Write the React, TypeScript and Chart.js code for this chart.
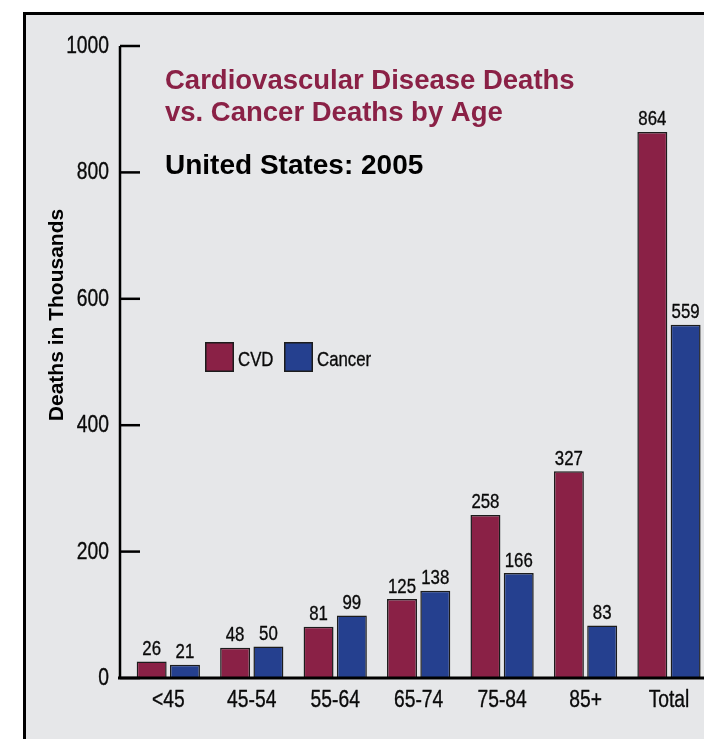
import React, { useEffect, useRef } from "react";
import { Chart, registerables } from "chart.js";

Chart.register(...registerables);

const categories = ["<45", "45-54", "55-64", "65-74", "75-84", "85+", "Total"];
const cvdDeaths = [26, 48, 81, 125, 258, 327, 864];
const cancerDeaths = [21, 50, 99, 138, 166, 83, 559];
const seriesNames = ["CVD", "Cancer"];
const yMin = 0;
const yMax = 1000;
const yStep = 200;
const titleLines = ["Cardiovascular Disease Deaths", "vs. Cancer Deaths by Age"];
const subtitleText = "United States: 2005";
const yAxisTitle = "Deaths in Thousands";

const CVD_COLOR = "#8A2146";
const CANCER_COLOR = "#25408F";
const BAR_BORDER = "#1c1c1c";
const PANEL_BG = "#E6E7E9";
const SANS = "'Liberation Sans', Arial, sans-serif";
const NARROW_X = 0.82; // Arial Narrow ≈ Arial compressed horizontally

const CANVAS_W = 720;
const CANVAS_H = 739;

function narrowText(
  ctx: CanvasRenderingContext2D,
  text: string,
  x: number,
  y: number,
  size: number,
  align: CanvasTextAlign,
  color = "#0a0a0a"
) {
  ctx.save();
  ctx.translate(x, y);
  ctx.scale(NARROW_X, 1);
  ctx.font = `${size}px ${SANS}`;
  ctx.fillStyle = color;
  ctx.strokeStyle = color;
  ctx.lineWidth = 0.35;
  ctx.lineJoin = "round";
  ctx.textAlign = align;
  ctx.textBaseline = "alphabetic";
  ctx.fillText(text, 0, 0);
  ctx.strokeText(text, 0, 0);
  ctx.restore();
}

const decorPlugin = {
  id: "decor",
  afterDatasetsDraw(chart: any) {
    const { ctx, chartArea, scales } = chart;
    const y = scales.y;
    const x = scales.x;
    const axisX = chartArea.left - 6.6;
    const zeroY = y.getPixelForValue(yMin);
    ctx.save();

    // value labels above bars
    chart.data.datasets.forEach((ds: any, di: number) => {
      const meta = chart.getDatasetMeta(di);
      meta.data.forEach((bar: any, i: number) => {
        narrowText(ctx, String(ds.data[i]), bar.x, bar.y - 6.5, 20.5, "center");
      });
    });

    // axes
    ctx.strokeStyle = "#000";
    ctx.lineCap = "butt";
    ctx.lineWidth = 2.5;
    ctx.beginPath();
    ctx.moveTo(axisX, y.getPixelForValue(yMax));
    ctx.lineTo(axisX, zeroY);
    ctx.stroke();
    y.ticks.forEach((t: any) => {
      const py = y.getPixelForValue(t.value);
      ctx.strokeStyle = "#000";
      ctx.lineWidth = 2.5;
      ctx.beginPath();
      ctx.moveTo(axisX, py);
      ctx.lineTo(axisX + 20, py);
      ctx.stroke();
      narrowText(ctx, String(t.value), axisX - 11, py + 7, 23.5, "right");
    });
    ctx.strokeStyle = "#000";
    ctx.lineWidth = 3;
    ctx.beginPath();
    ctx.moveTo(axisX - 2, zeroY);
    ctx.lineTo(chart.width, zeroY);
    ctx.stroke();

    // category labels
    chart.data.labels.forEach((lab: string, i: number) => {
      narrowText(ctx, lab, x.getPixelForTick(i), zeroY + 28.5, 23.5, "center");
    });

    // y axis title
    ctx.save();
    ctx.translate(63, 315);
    ctx.rotate(-Math.PI / 2);
    ctx.font = `bold 21px ${SANS}`;
    ctx.fillStyle = "#000";
    ctx.textAlign = "center";
    ctx.textBaseline = "alphabetic";
    ctx.fillText(yAxisTitle, 0, 0);
    ctx.restore();

    // titles
    ctx.textAlign = "left";
    ctx.textBaseline = "alphabetic";
    ctx.font = `bold 27.5px ${SANS}`;
    ctx.fillStyle = CVD_COLOR;
    ctx.fillText(titleLines[0], 165, 89);
    ctx.fillText(titleLines[1], 165, 121);
    ctx.font = `bold 28px ${SANS}`;
    ctx.fillStyle = "#000";
    ctx.fillText(subtitleText, 165, 174);

    // legend
    const boxXs = [205, 284];
    chart.data.datasets.forEach((ds: any, i: number) => {
      const bx = boxXs[i];
      ctx.fillStyle = ds.backgroundColor;
      ctx.fillRect(bx, 342, 29, 30);
      ctx.lineWidth = 1.5;
      ctx.strokeStyle = BAR_BORDER;
      ctx.strokeRect(bx + 0.75, 342.75, 27.5, 28.5);
      narrowText(ctx, ds.label, bx + 33, 366, 20.5, "left");
    });
    ctx.restore();
  },
};

export default function App() {
  const ref = useRef<HTMLCanvasElement>(null);
  useEffect(() => {
    if (!ref.current) return;
    const chart = new Chart(ref.current, {
      type: "bar",
      data: {
        labels: categories,
        datasets: [
          {
            label: seriesNames[0],
            data: cvdDeaths,
            backgroundColor: CVD_COLOR,
            borderColor: BAR_BORDER,
            borderWidth: 1.5,
            categoryPercentage: 0.798,
            barPercentage: 0.9,
          },
          {
            label: seriesNames[1],
            data: cancerDeaths,
            backgroundColor: CANCER_COLOR,
            borderColor: BAR_BORDER,
            borderWidth: 1.5,
            categoryPercentage: 0.798,
            barPercentage: 0.9,
          },
        ],
      },
      options: {
        responsive: false,
        animation: false,
        devicePixelRatio: 1,
        layout: { padding: { top: 46, right: 9.3, bottom: 0, left: 0 } },
        plugins: {
          legend: { display: false },
          title: { display: false },
          tooltip: { enabled: false },
        },
        scales: {
          x: {
            grid: { display: false, drawTicks: false },
            border: { display: false },
            ticks: { display: false },
            afterFit: (scale: any) => {
              scale.height = 61;
            },
          },
          y: {
            min: yMin,
            max: yMax,
            grid: { display: false, drawTicks: false },
            border: { display: false },
            ticks: { display: false, stepSize: yStep },
            afterFit: (scale: any) => {
              scale.width = 126.6;
            },
          },
        },
      },
      plugins: [decorPlugin],
    } as any);
    return () => chart.destroy();
  }, []);

  return (
    <div
      style={{
        position: "fixed",
        left: 0,
        top: 0,
        width: 704,
        height: 739,
        overflow: "hidden",
        background: "#fff",
      }}
    >
      <div
        style={{
          position: "absolute",
          left: 23,
          top: 12,
          width: 760,
          height: 780,
          borderLeft: "3px solid #000",
          borderTop: "3px solid #000",
          background: PANEL_BG,
        }}
      />
      <canvas
        ref={ref}
        width={CANVAS_W}
        height={CANVAS_H}
        style={{ position: "absolute", left: 0, top: 0, width: CANVAS_W, height: CANVAS_H }}
      />
    </div>
  );
}
